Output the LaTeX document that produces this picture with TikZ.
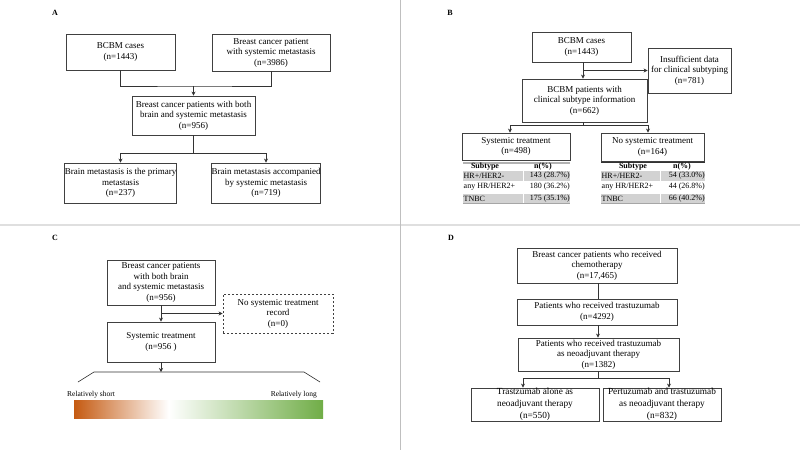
\documentclass[tikz,border=0pt]{standalone}
\usepackage{fontspec}
\setmainfont{Liberation Serif}
\usetikzlibrary{arrows.meta}
\definecolor{orangeC}{HTML}{C55A11}
\definecolor{greenC}{HTML}{70AD47}
\pgfdeclarehorizontalshading{barshade}{100bp}{color(0bp)=(orangeC); color(25bp)=(orangeC); color(44bp)=(white); color(75bp)=(greenC); color(100bp)=(greenC)}
\begin{document}
\begin{tikzpicture}[x=1pt,y=-1pt,
  wh/.style 2 args={minimum width=#1pt, minimum height=#2pt},
  box/.style={draw=black!75, line width=0.8pt, align=center, inner sep=0pt, font=\fontsize{9}{10.5}\selectfont},
  dbox/.style={box, dashed, dash pattern=on 2.2pt off 1.8pt},
  conn/.style={draw=black!80, line width=0.8pt},
  arr/.style={conn, -{Stealth[length=4pt,width=4pt]}},
  lab/.style={font=\fontsize{8}{9}\selectfont\bfseries, inner sep=0pt},
  tab/.style={font=\fontsize{8}{9}\selectfont, inner sep=0pt},
  tabh/.style={tab, font=\fontsize{8}{9}\selectfont\bfseries},
  grayrow/.style={fill=gray!35},
]
\useasboundingbox (0,0) rectangle (800,450);
\fill[white] (0,0) rectangle (800,450);
% separators
\draw[gray!25, line width=2pt] (0,224.5) -- (800,224.5);
\draw[gray!50, line width=0.8pt] (400.5,0) -- (400.5,450);

% ---------------- Panel A
\node[lab] (la) at (55,13) {A};
\node[box, wh={109}{36}] (a1) at (120.5,52) {BCBM cases\\(n=1443)};
\node[box, wh={118}{37}] (a2) at (271,52.5) {Breast cancer patient\\with systemic metastasis\\(n=3986)};
\node[box, wh={123}{39}] (a3) at (193.5,115.5) {Breast cancer patients with both\\brain and systemic metastasis\\(n=956)};
\node[box, wh={109}{40}] (a4) at (120.5,183) {Brain metastasis is the primary\\metastasis\\(n=237)};
\node[box, wh={108}{40}] (a5) at (266,183) {Brain metastasis accompanied\\by systemic metastasis\\(n=719)};
\coordinate (aj) at (193.5,86);
\draw[conn] (a1.south) |- (aj) -| (a2.south);
\draw[arr] (aj) -- (a3.north);
\coordinate (ak) at (193.5,153);
\draw[conn] (a3.south) -- (ak);
\draw[arr] (ak) -| (a4.north);
\draw[arr] (ak) -| (a5.north);

% ---------------- Panel B
\node[lab] (lb) at (450,13) {B};
\node[box, wh={99}{30}] (b1) at (581.5,47) {BCBM cases\\(n=1443)};
\node[box, wh={83}{45}] (b2) at (689.5,70.5) {Insufficient data\\for clinical subtyping\\(n=781)};
\node[box, wh={125}{43}] (b3) at (584.5,100.5) {BCBM patients with\\clinical subtype information\\(n=662)};
\node[box, wh={108}{27}] (b4) at (516,146.5) {Systemic treatment\\(n=498)};
\node[box, wh={103}{28}] (b5) at (652.5,147) {No systemic treatment\\(n=164)};
\coordinate (bj) at (583,70.5);
\draw[arr] (b1.south -| bj) -- (b3.north -| bj);
\draw[arr] (bj) -- (b2.west);
\coordinate (bk) at (583,125);
\coordinate (bl) at (510,125);
\coordinate (br) at (648,125);
\draw[conn] (b3.south -| bk) -- (bk);
\draw[conn] (bl) -- (br);
\draw[arr] (bl) -- (b4.north -| bl);
\draw[arr] (br) -- (b5.north -| br);

% left table
\draw[gray!60, line width=2pt] (463,162.5) -- (570,162.5);
\fill[grayrow] (463,171) rectangle (570,180.5);
\fill[grayrow] (463,194) rectangle (570,203);
\draw[white, line width=0.8pt] (523,171) -- (523,180.5) (523,194) -- (523,203);
\draw[gray!70, line width=0.6pt] (463,203) -- (570,203);
\node[tabh] (lth1) at (485,167) {Subtype};
\node[tabh] (lth2) at (543,167) {n(\%)};
\node[tab, anchor=west] (ltr1) at (463.5,175.8) {HR+/HER2-};
\node[tab, anchor=east] (ltv1) at (570,175.8) {143 (28.7\%)};
\node[tab, anchor=west] (ltr2) at (463.5,186.8) {any HR/HER2+};
\node[tab, anchor=east] (ltv2) at (570,186.8) {180 (36.2\%)};
\node[tab, anchor=west] (ltr3) at (463.5,198.6) {TNBC};
\node[tab, anchor=east] (ltv3) at (570,198.6) {175 (35.1\%)};

% right table
\draw[black!80, line width=0.6pt] (601,162) -- (705,162);
\fill[grayrow] (601,171) rectangle (705,180.5);
\fill[grayrow] (601,194) rectangle (705,203);
\draw[white, line width=0.8pt] (660,171) -- (660,180.5) (660,194) -- (660,203);
\draw[gray!70, line width=0.6pt] (601,203) -- (705,203);
\node[tabh] (rth1) at (633,167) {Subtype};
\node[tabh] (rth2) at (682,167) {n(\%)};
\node[tab, anchor=west] (rtr1) at (601.5,175.8) {HR+/HER2-};
\node[tab, anchor=east] (rtv1) at (705,175.8) {54 (33.0\%)};
\node[tab, anchor=west] (rtr2) at (601.5,186.8) {any HR/HER2+};
\node[tab, anchor=east] (rtv2) at (705,186.8) {44 (26.8\%)};
\node[tab, anchor=west] (rtr3) at (601.5,198.6) {TNBC};
\node[tab, anchor=east] (rtv3) at (705,198.6) {66 (40.2\%)};

% ---------------- Panel C
\node[lab] (lc) at (55,238) {C};
\node[box, wh={108}{45}] (c1) at (161,282.5) {Breast cancer patients\\with both brain\\and systemic metastasis\\(n=956)};
\node[dbox, wh={110}{39}] (c2) at (278,313.5) {No systemic treatment\\record\\(n=0)};
\node[box, wh={108}{40}] (c3) at (161,342) {Systemic treatment\\(n=956 )};
\coordinate (cj) at (161,313.5);
\draw[arr] (c1.south) -- (c3.north);
\draw[arr] (cj) -- (c2.west);
\coordinate (ck) at (161,372);
\draw[arr] (c3.south) -- (ck);
\coordinate (cl) at (94,372);
\coordinate (cr) at (304,372);
\coordinate (cll) at (78,382);
\coordinate (crr) at (320,382);
\draw[conn, line width=0.6pt] (cll) -- (cl) -- (cr) -- (crr);
\node[tab, anchor=west, font=\fontsize{7.5}{9}\selectfont] (cshort) at (67,395) {Relatively short};
\node[tab, anchor=east, font=\fontsize{7.5}{9}\selectfont] (clong) at (317,395) {Relatively long};
\shade[shading=barshade] (74,400) rectangle (323,418);

% ---------------- Panel D
\node[lab] (ld) at (451,238) {D};
\node[box, wh={160}{35}] (d1) at (597,265.5) {Breast cancer patients who received\\chemotherapy\\(n=17,465)};
\node[box, wh={160}{26}] (d2) at (597,312) {Patients who received trastuzumab\\(n=4292)};
\node[box, wh={161}{33}] (d3) at (598.5,354.5) {Patients who received trastuzumab\\as neoadjuvant therapy\\(n=1382)};
\node[box, wh={128}{33}, font=\fontsize{9.3}{11.8}\selectfont] (d4) at (535,404.5) {Trastzumab alone as\\neoadjuvant therapy\\(n=550)};
\node[box, wh={118}{33}, font=\fontsize{9.3}{11.8}\selectfont] (d5) at (662,404.5) {Pertuzumab and trastuzumab\\as neoadjuvant therapy\\(n=832)};
\coordinate (dx) at (598,378);
\draw[conn] (d1.south -| dx) -- (d2.north -| dx);
\draw[arr] (d2.south -| dx) -- (d3.north -| dx);
\coordinate (dl) at (523,378);
\coordinate (dr) at (669,378);
\draw[conn] (d3.south -| dx) -- (dx);
\draw[conn] (dl) -- (dr);
\draw[arr] (dl) -- (d4.north -| dl);
\draw[arr] (dr) -- (d5.north -| dr);
\end{tikzpicture}
\end{document}
